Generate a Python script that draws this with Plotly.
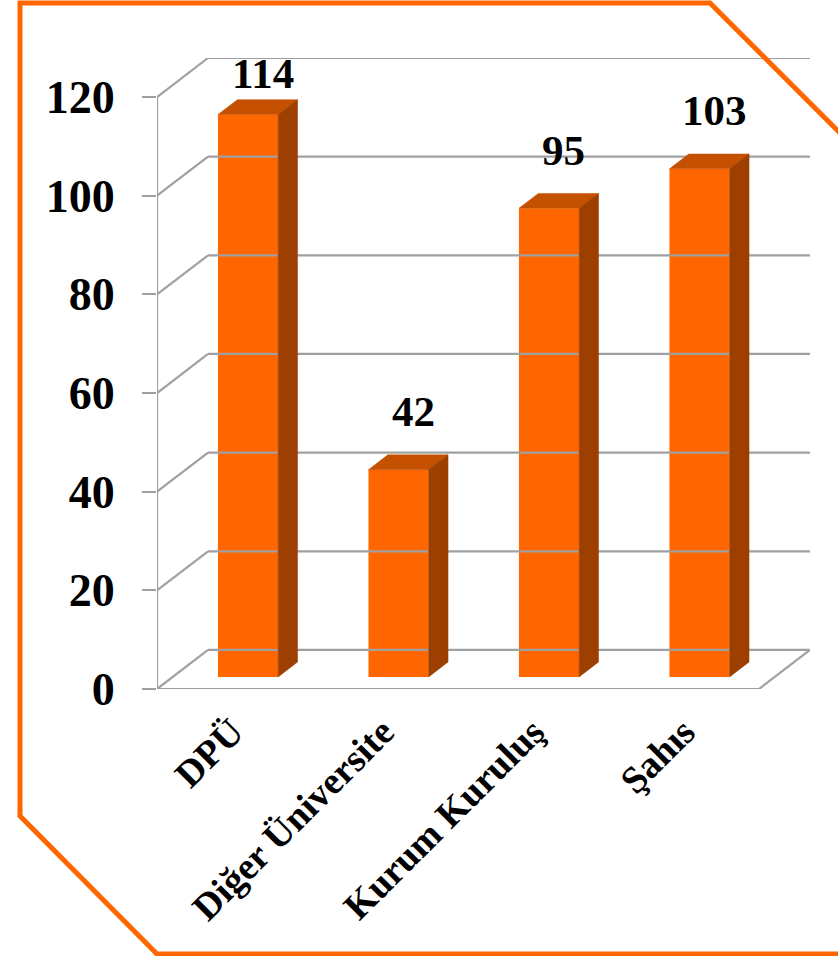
import plotly.graph_objects as go

# ---- data ----
categories = ["DPÜ", "Diğer Üniversite", "Kurum Kuruluş", "Şahıs"]
values = [114, 42, 95, 103]
y_ticks = [0, 20, 40, 60, 80, 100, 120]

# ---- 3D-look geometry (in axis units) ----
DEPTH_X = 0.339      # horizontal shift of back wall (category units)
DEPTH_Y = 7.92       # vertical shift of back wall (value units)
FRONT_GAP = 0.31     # fraction of depth before bar front face
BAR_DEPTH = 0.38     # fraction of depth taken by bar
BAR_W = 0.40

W, H = 838, 956
ML, MT, MR, MB = 157, 58, 28, 267

FRONT = "#FF6600"
TOP = "#C45000"
SIDE = "#9C3F00"
GRID = "#A0A0A0"
FONT = "Liberation Serif, Times New Roman, serif"

n = len(categories)
x_lo, x_hi = -0.5, n - 0.5
y_top = max(y_ticks)
y_max = y_top + DEPTH_Y

fig = go.Figure()

def line_trace(xs, ys, color=GRID, width=2.2):
    fig.add_trace(go.Scatter(x=xs, y=ys, mode="lines",
                             line=dict(color=color, width=width),
                             hoverinfo="skip", showlegend=False,
                             cliponaxis=False))

# back wall horizontals and left wall diagonals
for t in y_ticks:
    line_trace([x_lo + DEPTH_X, x_hi + DEPTH_X], [t + DEPTH_Y, t + DEPTH_Y])
    line_trace([x_lo, x_lo + DEPTH_X], [t, t + DEPTH_Y])
# floor front edge and right edge
line_trace([x_lo, x_hi], [0, 0])
line_trace([x_hi, x_hi + DEPTH_X], [0, DEPTH_Y])
# front vertical axis
line_trace([x_lo, x_lo], [0, y_top])
# category boundary ticks (below floor)
tick_drop = 2.2
for k in range(n + 1):
    b = x_lo + k
    line_trace([b, b], [0, -tick_drop])

# bars
ox = FRONT_GAP * DEPTH_X
oy = FRONT_GAP * DEPTH_Y
bdx = BAR_DEPTH * DEPTH_X
bdy = BAR_DEPTH * DEPTH_Y

xs_front = [i + ox for i in range(n)]
fig.add_trace(go.Bar(x=xs_front, y=values, base=oy, width=BAR_W,
                     marker=dict(color=FRONT, line=dict(width=0)),
                     hoverinfo="skip", showlegend=False))

LABEL_GAP = 4.8      # value units between bar top and label
LABEL_H = 7.0        # approx label height in value units
for i, v in enumerate(values):
    L = i + ox - BAR_W / 2
    R = i + ox + BAR_W / 2
    top = v + oy
    # top face
    fig.add_trace(go.Scatter(
        x=[L, R, R + bdx, L + bdx, L],
        y=[top, top, top + bdy, top + bdy, top],
        fill="toself", fillcolor=TOP, mode="lines",
        line=dict(color=TOP, width=0.5), hoverinfo="skip",
        showlegend=False, cliponaxis=False))
    # side face
    fig.add_trace(go.Scatter(
        x=[R, R + bdx, R + bdx, R, R],
        y=[oy, oy + bdy, top + bdy, top, oy],
        fill="toself", fillcolor=SIDE, mode="lines",
        line=dict(color=SIDE, width=0.5), hoverinfo="skip",
        showlegend=False, cliponaxis=False))
    # value label (kept inside the plot area)
    lab_y = min(top + bdy + LABEL_GAP, y_max - LABEL_H)
    fig.add_annotation(x=i + ox + bdx * 0.75, y=lab_y, text=f"<b>{v}</b>",
                       showarrow=False, yanchor="bottom", yshift=-6,
                       font=dict(family=FONT, size=43, color="black"))

# border octagon (paper coords from pixel positions)
pw = W - ML - MR
ph = H - MT - MB
def px(x):
    return (x - ML) / pw
def py(y):
    return (H - MB - y) / ph
pts = [(20, 3), (710, 3), (860, 153), (860, 954), (157, 954), (20, 816)]
path = "M " + " L ".join(f"{px(a)},{py(b)}" for a, b in pts) + " Z"
fig.add_shape(type="path", path=path, xref="paper", yref="paper",
              line=dict(color="#FF6600", width=5), layer="above")

fig.update_layout(
    width=W, height=H,
    margin=dict(l=ML, r=MR, t=MT, b=MB),
    paper_bgcolor="white", plot_bgcolor="white",
    showlegend=False,
    xaxis=dict(range=[x_lo, x_hi + DEPTH_X], showgrid=False, zeroline=False,
               showline=False, tickmode="array", tickvals=list(range(n)),
               ticktext=[f"<b>{c}</b>" for c in categories], tickangle=-45,
               ticks="", ticklabelstandoff=12,
               tickfont=dict(family=FONT, size=38, color="black")),
    yaxis=dict(range=[0, y_max], showgrid=False, zeroline=False,
               showline=False, tickmode="array", tickvals=y_ticks,
               ticks="outside", ticklen=14, tickwidth=2.2, tickcolor=GRID,
               ticklabelstandoff=18,
               tickfont=dict(family=FONT, size=46, color="black", weight="bold")),
)

fig.write_html("out.html")
